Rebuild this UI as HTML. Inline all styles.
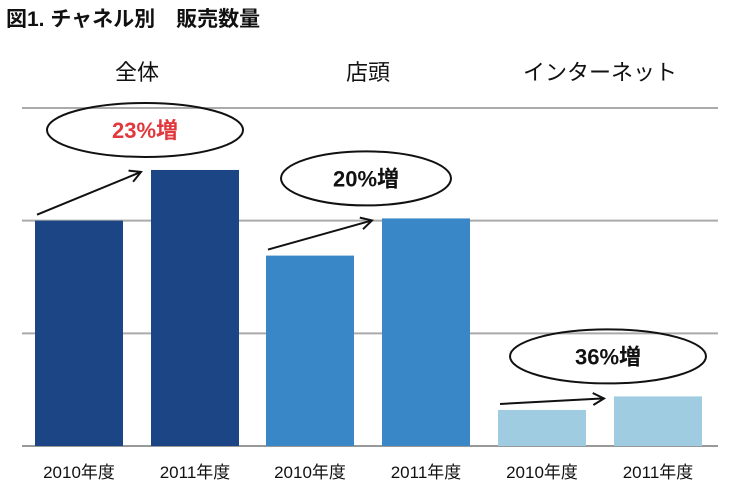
<!DOCTYPE html>
<html><head><meta charset="utf-8"><style>
body{margin:0;background:#fff}
svg text{font-family:"Liberation Sans","Noto Sans CJK JP",sans-serif}
</style></head><body>
<svg width="740" height="493" viewBox="0 0 740 493">
<defs><marker id="ah" markerWidth="14" markerHeight="14" refX="12" refY="7" orient="auto" markerUnits="userSpaceOnUse"><path d="M1,1 L12,7 L1,13" fill="none" stroke="#111" stroke-width="2"/></marker></defs>
<text x="6" y="26" font-size="21" font-weight="bold" fill="#111">図1. チャネル別　販売数量</text>
<g id="grid"></g><g id="bars"></g><g id="labels"></g><g id="notes"></g>
</svg>
<script>
const groups=["全体","店頭","インターネット"];
const years=["2010年度","2011年度"];
const values2010=[200,169,32];
const values2011=[245,202,44];
const growth=["23%増","20%増","36%増"];
const gridTicks=[0,100,200,300];
const ns="http://www.w3.org/2000/svg";
const baseY=446, plotTop=108, maxV=300;
const yS=v=>baseY-(v/maxV)*(baseY-plotTop);
const colors=["#1b4585","#3a87c7","#9fcce1"];
const groupX=[35,266,498], barW=88, gap2=116;
function mk(t,a,p){const e=document.createElementNS(ns,t);for(const k in a)e.setAttribute(k,a[k]);p.appendChild(e);return e;}
const G=document.getElementById('grid'),B=document.getElementById('bars'),L=document.getElementById('labels'),N=document.getElementById('notes');
gridTicks.forEach(t=>{const l=mk('line',{x1:22,x2:718,y1:yS(t),y2:yS(t),stroke:t===0?'#999':'#aaa','stroke-width':2},G);

});
groups.forEach((g,i)=>{
 const gx=groupX[i];
 const tt=mk('text',{x:gx+barW+14,y:80,'font-size':22,'text-anchor':'middle',fill:'#111'},L);tt.textContent=g;
 
 
 [values2010[i],values2011[i]].forEach((v,j)=>{
  const x=gx+j*gap2;
  const r=mk('rect',{x:x,y:yS(v),width:barW,height:baseY-yS(v),fill:colors[i]},B);
  
  
  const lt=mk('text',{x:x+barW/2,y:478,'font-size':17,'text-anchor':'middle',fill:'#111'},L);lt.textContent=years[j];
  
  
 });
 const ya=yS(values2010[i])-6, yb=yS(values2011[i])+2;
 const ar=mk('line',{x1:gx+2,y1:ya,x2:gx+gap2-10,y2:yb,stroke:'#111','stroke-width':2,'marker-end':'url(#ah)'},N);
 
 
 const cx=gx+(i===1?100:110), cy=yb-42;
 const rx=i===1?85:98;
 const el=mk('ellipse',{cx:cx,cy:cy,rx:rx,ry:27,fill:'none',stroke:'#111','stroke-width':2},N);
 
 
 const gt=mk('text',{x:cx,y:cy+8,'font-size':22,'font-weight':'bold','text-anchor':'middle',fill:i===0?'#e0393e':'#111'},N);gt.textContent=growth[i];
 
 
});
</script>
</body></html>
